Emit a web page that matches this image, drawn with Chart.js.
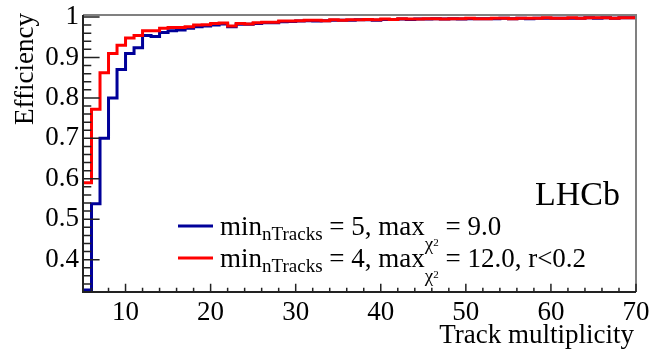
<!DOCTYPE html>
<html>
<head>
<meta charset="utf-8">
<title>Efficiency vs track multiplicity</title>
<script src="https://cdn.jsdelivr.net/npm/chart.js@4.4.0/dist/chart.umd.min.js"></script>
<style>
  body { margin: 0; background: #fff; }
  canvas { display: block; }
</style>
</head>
<body>
<canvas id="effChart" width="650" height="352"></canvas>
<script>
// lower bin edges (track multiplicity), last bin ends at binHigh
const binLow = [5, 6, 7, 8, 9, 10, 11, 12, 13, 14, 15, 16, 17, 18, 19, 20, 21, 22, 23, 24,
    25, 26, 27, 28, 29, 30, 31, 32, 33, 34, 35, 36, 37, 38, 39, 40, 41, 42, 43, 44,
    45, 46, 47, 48, 49, 50, 51, 52, 53, 54, 55, 56, 57, 58, 59, 60, 61, 62, 63, 64,
    65, 66, 67, 68, 69];
const binHigh = 70;

// min nTracks = 5, max chi2 = 9.0
const effBlue = [0.325, 0.538, 0.700, 0.800, 0.870, 0.910, 0.924, 0.954, 0.952, 0.962,
    0.966, 0.968, 0.972, 0.976, 0.978, 0.980, 0.983, 0.976, 0.982, 0.982,
    0.984, 0.986, 0.986, 0.988, 0.989, 0.990, 0.991, 0.990, 0.991, 0.992,
    0.992, 0.992, 0.993, 0.993, 0.992, 0.994, 0.994, 0.995, 0.994, 0.995,
    0.995, 0.996, 0.995, 0.996, 0.995, 0.996, 0.996, 0.996, 0.996, 0.997,
    0.996, 0.997, 0.996, 0.997, 0.997, 0.997, 0.997, 0.997, 0.997, 0.998,
    0.997, 0.998, 0.997, 0.998, 0.998];

// min nTracks = 4, max chi2 = 12.0, r<0.2
const effRed = [0.590, 0.772, 0.862, 0.910, 0.930, 0.948, 0.954, 0.966, 0.966, 0.972,
    0.974, 0.974, 0.976, 0.980, 0.981, 0.984, 0.985, 0.978, 0.984, 0.983,
    0.986, 0.987, 0.987, 0.990, 0.990, 0.991, 0.992, 0.992, 0.991, 0.993,
    0.992, 0.993, 0.993, 0.994, 0.993, 0.995, 0.994, 0.996, 0.995, 0.995,
    0.996, 0.996, 0.995, 0.996, 0.996, 0.997, 0.996, 0.996, 0.997, 0.997,
    0.996, 0.997, 0.997, 0.997, 0.998, 0.997, 0.997, 0.998, 0.997, 0.998,
    0.998, 0.998, 0.997, 0.998, 0.998];

const xTicks = [10, 20, 30, 40, 50, 60, 70];
const yTicks = [0.4, 0.5, 0.6, 0.7, 0.8, 0.9, 1];

const serif = "'Liberation Serif', 'Times New Roman', serif";
const blue = '#000099';
const red = '#ff0000';

function histPoints(vals) {
    const pts = binLow.map((x, i) => ({x: x, y: vals[i]}));
    pts.push({x: binHigh, y: vals[vals.length - 1]});
    return pts;
}

function drawParts(ctx, x, y, parts) {
    parts.forEach(p => {
        ctx.font = `${p[1]}px ${serif}`;
        ctx.fillText(p[0], x, y + p[2]);
        x += ctx.measureText(p[0]).width;
    });
}

const legendRows = [
    {color: blue, parts: [['min', 27, 0], ['nTracks', 19, 5], [' = 5, max', 27, 0], ['\u03c7', 19, 15], ['2', 11, 11], [' = 9.0', 27, 0]]},
    {color: red, parts: [['min', 27, 0], ['nTracks', 19, 5], [' = 4, max', 27, 0], ['\u03c7', 19, 15], ['2', 11, 11], [' = 12.0, r<0.2', 27, 0]]}
];

// ROOT-like frame, inward ticks, titles and legend
const rootStyle = {
    id: 'rootStyle',
    afterDraw(chart) {
        const ctx = chart.ctx;
        const a = chart.chartArea;
        const xs = chart.scales.x;
        const ys = chart.scales.y;
        ctx.save();
        ctx.lineWidth = 2;
        ctx.strokeStyle = '#808080';
        ctx.beginPath();
        ctx.moveTo(a.left, a.top);
        ctx.lineTo(a.right, a.top);
        ctx.lineTo(a.right, a.bottom);
        ctx.stroke();
        ctx.strokeStyle = '#222';
        ctx.beginPath();
        ctx.moveTo(a.left, a.top);
        ctx.lineTo(a.left, a.bottom);
        ctx.lineTo(a.right, a.bottom);
        ctx.stroke();

        const yLen = 0.03 * (a.right - a.left);
        const xLen = 0.03 * (a.bottom - a.top);
        ctx.lineWidth = 1.5;
        ctx.beginPath();
        for (let k = 16; k <= 50; k++) {
            const py = ys.getPixelForValue(k * 0.02);
            const len = k % 5 === 0 ? yLen : yLen / 2;
            ctx.moveTo(a.left, py);
            ctx.lineTo(a.left + len, py);
        }
        for (let k = 3; k <= 35; k++) {
            const px = xs.getPixelForValue(k * 2);
            const len = k % 5 === 0 ? xLen : xLen / 2;
            ctx.moveTo(px, a.bottom);
            ctx.lineTo(px, a.bottom - len);
        }
        ctx.stroke();

        ctx.fillStyle = '#000';
        ctx.textBaseline = 'alphabetic';
        ctx.font = `27px ${serif}`;
        ctx.textAlign = 'right';
        ctx.fillText('Track multiplicity', 634, 343);
        ctx.save();
        ctx.translate(33, 13);
        ctx.rotate(-Math.PI / 2);
        ctx.fillText('Efficiency', 0, 0);
        ctx.restore();

        ctx.textAlign = 'left';
        ctx.font = `34px ${serif}`;
        ctx.fillText('LHCb', 535, 205);

        legendRows.forEach((row, i) => {
            const base = 235 + i * 32;
            ctx.strokeStyle = row.color;
            ctx.lineWidth = 3;
            ctx.beginPath();
            ctx.moveTo(178, base - 9);
            ctx.lineTo(213, base - 9);
            ctx.stroke();
            drawParts(ctx, 220, base, row.parts);
        });
        ctx.restore();
    }
};

const ctx = document.getElementById('effChart').getContext('2d');
const effChart = new Chart(ctx, {
    type: 'line',
    data: {
        datasets: [{
            label: 'min nTracks = 4, max chi2 = 12.0, r<0.2',
            data: histPoints(effRed),
            borderColor: red,
            borderWidth: 3,
            stepped: true,
            pointRadius: 0,
            fill: false,
            order: 0
        }, {
            label: 'min nTracks = 5, max chi2 = 9.0',
            data: histPoints(effBlue),
            borderColor: blue,
            borderWidth: 3,
            stepped: true,
            pointRadius: 0,
            fill: false,
            order: 1
        }]
    },
    options: {
        responsive: false,
        animation: false,
        devicePixelRatio: 1,
        layout: {padding: {top: 15, right: 14, left: 0, bottom: 0}},
        plugins: {
            legend: {display: false},
            tooltip: {enabled: false}
        },
        scales: {
            x: {
                type: 'linear',
                min: 5,
                max: 70,
                grid: {display: false, drawTicks: false},
                border: {display: false},
                ticks: {color: '#000', font: {family: serif, size: 27}, padding: 5, maxRotation: 0, autoSkip: false},
                afterBuildTicks: s => { s.ticks = xTicks.map(v => ({value: v})); },
                afterFit: s => { s.height = 60; s.paddingLeft = 0; s.paddingRight = 0; }
            },
            y: {
                min: 0.32,
                max: 1.005,
                grid: {display: false, drawTicks: false},
                border: {display: false},
                ticks: {
                    color: '#000',
                    font: {family: serif, size: 27},
                    padding: 4,
                    autoSkip: false,
                    callback: v => v === 1 ? '1' : v.toFixed(1)
                },
                afterBuildTicks: s => { s.ticks = yTicks.map(v => ({value: v})); },
                afterFit: s => { s.width = 83; s.paddingTop = 0; s.paddingBottom = 0; }
            }
        }
    },
    plugins: [rootStyle]
});
</script>
</body>
</html>
